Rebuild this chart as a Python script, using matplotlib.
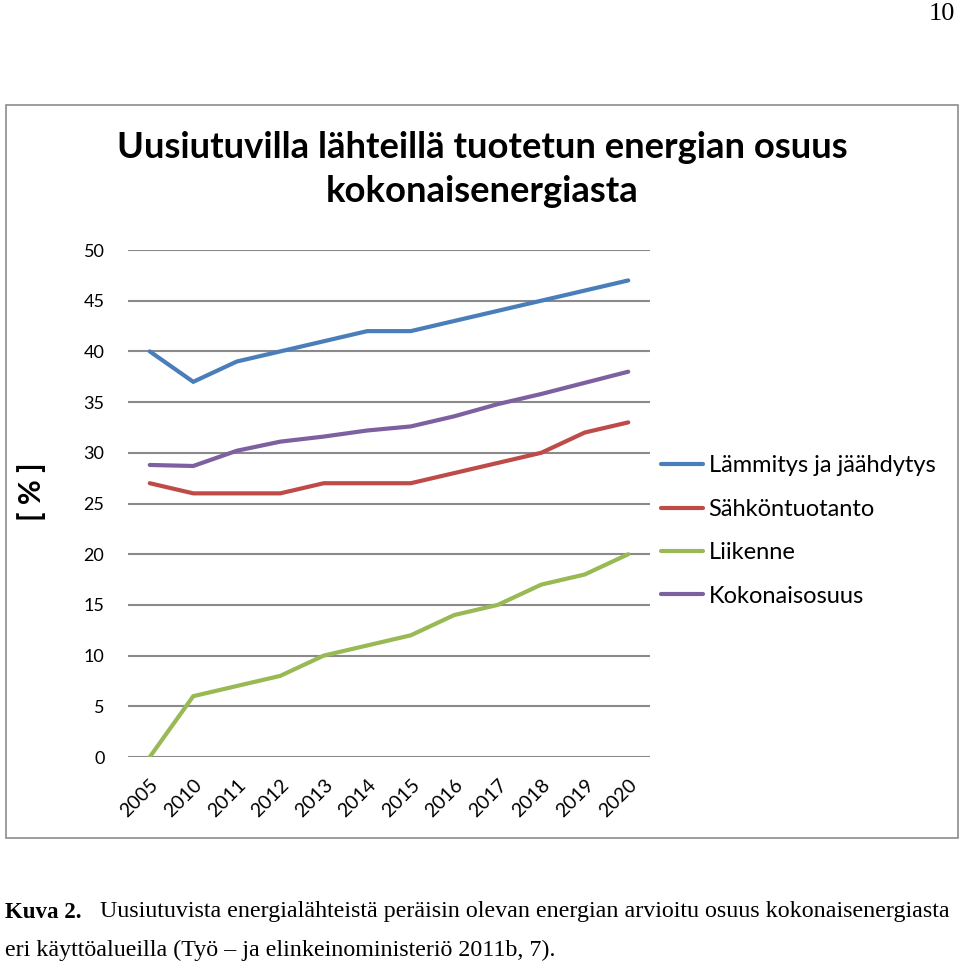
import matplotlib
matplotlib.use("Agg")
import matplotlib.pyplot as plt
from matplotlib.patches import Rectangle

# data
years = ["2005", "2010", "2011", "2012", "2013", "2014", "2015",
         "2016", "2017", "2018", "2019", "2020"]
lammitys = [40, 37, 39, 40, 41, 42, 42, 43, 44, 45, 46, 47]
sahko = [27, 26, 26, 26, 27, 27, 27, 28, 29, 30, 32, 33]
liikenne = [0, 6, 7, 8, 10, 11, 12, 14, 15, 17, 18, 20]
kokonais = [28.8, 28.7, 30.2, 31.1, 31.6, 32.2, 32.6, 33.6, 34.8, 35.8, 36.9, 38.0]
series_names = ["Lämmitys ja jäähdytys", "Sähköntuotanto", "Liikenne", "Kokonaisosuus"]
colors = ["#4A7EBB", "#BE4B48", "#98B954", "#7D60A0"]

W, H = 960, 968
fig = plt.figure(figsize=(W / 100, H / 100), dpi=100)

# chart frame
fig.add_artist(Rectangle((6 / W, 1 - 838 / H), 952 / W, 733 / H, transform=fig.transFigure,
                         fill=False, edgecolor="#8c8c8c", linewidth=1.2))

ax = fig.add_axes([128 / W, 1 - 757 / H, 522 / W, 507 / H])
x = list(range(len(years)))
for vals, name, c in zip([lammitys, sahko, liikenne, kokonais], series_names, colors):
    ax.plot(x, vals, color=c, linewidth=3.0, label=name, solid_capstyle="round",
            solid_joinstyle="miter", zorder=3)

ax.set_xlim(-0.5, len(years) - 0.5)
ax.set_ylim(0, 50)
ax.set_yticks(range(0, 51, 5))
ax.yaxis.grid(True, color="#8a8a8a", linewidth=1.5)
ax.set_axisbelow(True)
for s in ax.spines.values():
    s.set_visible(False)
ax.tick_params(axis="both", length=0)
ax.tick_params(axis="y", labelsize=13, pad=17)
ax.set_yticklabels([str(v) for v in range(0, 51, 5)], fontfamily="Lato")
ax.set_xticks(x)
ax.set_xticklabels(years, rotation=45, ha="right", rotation_mode="anchor",
                   fontsize=14, fontfamily="Lato")
ax.tick_params(axis="x", pad=14)

fig.text(32 / W, 1 - 492 / H, "[ % ]", rotation=90, fontsize=22, fontweight="bold",
         fontfamily="Lato", ha="center", va="center")

fig.text(482 / W, 1 - 147 / H, "Uusiutuvilla lähteillä tuotetun energian osuus",
         fontsize=26.2, fontweight="bold", fontfamily="Lato", ha="center", va="center")
fig.text(482 / W, 1 - 192 / H, "kokonaisenergiasta",
         fontsize=26.2, fontweight="bold", fontfamily="Lato", ha="center", va="center")

leg = ax.legend(loc="upper left", bbox_to_anchor=(652 / W, 1 - 446 / H),
                bbox_transform=fig.transFigure, frameon=False, handlelength=1.75,
                handletextpad=0.25, labelspacing=0.95, borderaxespad=0,
                prop={"family": "Lato", "size": 17})

fig.text(942 / W, 1 - 14 / H, "10", fontsize=19, fontfamily="Liberation Serif",
         ha="center", va="center")
fig.text(5 / W, 1 - 912 / H, "Kuva 2.", fontsize=16.5, fontweight="bold",
         fontfamily="Liberation Serif", ha="left", va="center")
fig.text(100 / W, 1 - 912 / H,
         "Uusiutuvista energialähteistä peräisin olevan energian arvioitu osuus kokonaisenergiasta",
         fontsize=17.3, fontfamily="Liberation Serif", ha="left", va="center")
fig.text(5 / W, 1 - 950 / H, "eri käyttöalueilla (Työ – ja elinkeinoministeriö 2011b, 7).",
         fontsize=17.3, fontfamily="Liberation Serif", ha="left", va="center")

fig.savefig("out.png", dpi=100)
